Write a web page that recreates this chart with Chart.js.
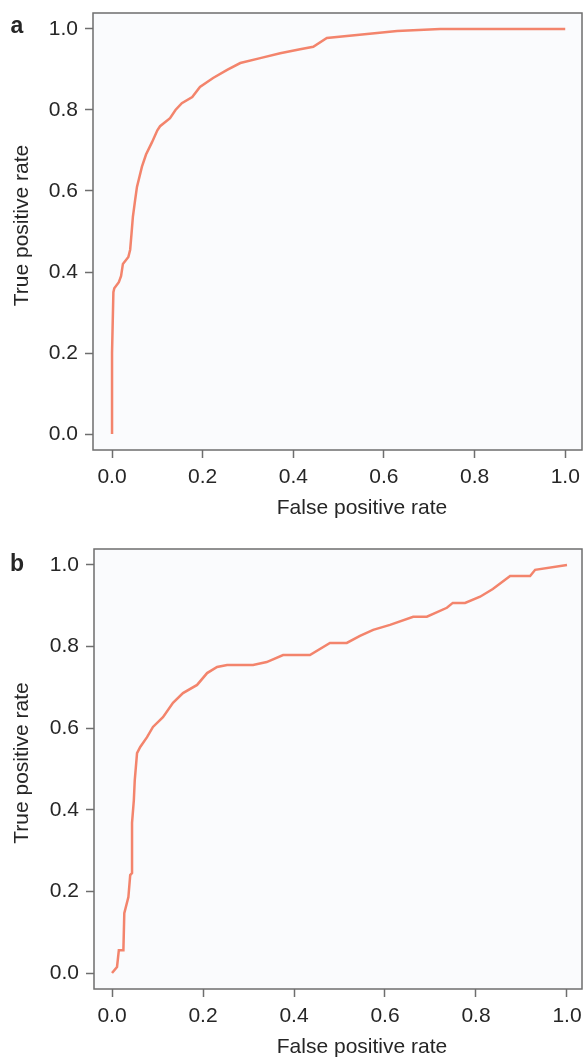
<!DOCTYPE html>
<html>
<head>
<meta charset="utf-8">
<script src="https://cdn.jsdelivr.net/npm/chart.js@4"></script>
<style>
  html, body { margin: 0; padding: 0; background: #fff; }
  body { width: 583px; height: 1057px; position: relative; overflow: hidden; }
  .panel { position: absolute; left: 0; width: 583px; }
  #panelA { top: 0; height: 528px; }
  #panelB { top: 528px; height: 529px; }
</style>
</head>
<body>
<div class="panel" id="panelA"><canvas id="rocA"></canvas></div>
<div class="panel" id="panelB"><canvas id="rocB"></canvas></div>
<script>
// ROC curve a
let fprA = [0, 0, 0.003, 0.005, 0.015, 0.02, 0.024, 0.036, 0.04, 0.043, 0.046, 0.051, 0.055, 0.066, 0.075,
    0.088, 0.1, 0.106, 0.128, 0.14, 0.154, 0.177, 0.194, 0.223, 0.254, 0.283, 0.327, 0.371, 0.415, 0.444,
    0.474, 0.585, 0.629, 0.724, 1.0];
let tprA = [0, 0.2, 0.35, 0.36, 0.375, 0.39, 0.42, 0.437, 0.455, 0.495, 0.536, 0.578, 0.61, 0.66, 0.69,
    0.72, 0.75, 0.76, 0.78, 0.8, 0.817, 0.832, 0.857, 0.879, 0.899, 0.916, 0.928, 0.94, 0.95, 0.956,
    0.978, 0.99, 0.995, 1.0, 1.0];

// ROC curve b
let fprB = [0, 0.011, 0.015, 0.025, 0.027, 0.036, 0.04, 0.044, 0.044, 0.048, 0.05, 0.055, 0.062, 0.077,
    0.09, 0.112, 0.134, 0.156, 0.187, 0.209, 0.231, 0.253, 0.31, 0.34, 0.376, 0.435, 0.479, 0.516, 0.545,
    0.574, 0.611, 0.662, 0.692, 0.736, 0.749, 0.776, 0.809, 0.837, 0.875, 0.919, 0.93, 1.0];
let tprB = [0, 0.015, 0.056, 0.056, 0.147, 0.186, 0.24, 0.245, 0.368, 0.424, 0.473, 0.539, 0.554, 0.578,
    0.603, 0.627, 0.662, 0.686, 0.706, 0.735, 0.75, 0.755, 0.755, 0.762, 0.779, 0.779, 0.809, 0.809, 0.826,
    0.841, 0.853, 0.873, 0.873, 0.895, 0.907, 0.907, 0.922, 0.941, 0.973, 0.973, 0.988, 1.0];

let axisTicks = [0, 0.2, 0.4, 0.6, 0.8, 1.0];
let xTitle = 'False positive rate';
let yTitle = 'True positive rate';

const FONT = '"Liberation Sans", Arial, Helvetica, sans-serif';
const AXIS_COLOR = '#6e6e6e';
const TEXT_COLOR = '#262626';

// background, box and the extra texts (panel letter, axis titles)
const panelDecor = {
    id: 'panelDecor',
    beforeDraw(chart, args, opts) {
        const a = chart.chartArea;
        const ctx = chart.ctx;
        ctx.save();
        ctx.fillStyle = '#fafbfd';
        ctx.fillRect(a.left, a.top, a.right - a.left, a.bottom - a.top);
        ctx.restore();
    },
    afterDraw(chart, args, opts) {
        const a = chart.chartArea;
        const ctx = chart.ctx;
        ctx.save();
        ctx.strokeStyle = AXIS_COLOR;
        ctx.lineWidth = 1.5;
        ctx.strokeRect(a.left, a.top, a.right - a.left, a.bottom - a.top);

        ctx.fillStyle = TEXT_COLOR;
        ctx.font = 'bold 23px ' + FONT;
        ctx.textAlign = 'center';
        ctx.textBaseline = 'middle';
        ctx.fillText(opts.letter, 17, opts.letterY);

        ctx.font = '21px ' + FONT;
        ctx.fillText(xTitle, 362, a.bottom + 58);

        ctx.translate(22, (a.top + a.bottom) / 2 - 6);
        ctx.rotate(-Math.PI / 2);
        ctx.fillText(yTitle, 0, 0);
        ctx.restore();
    }
};

function makeRoc(canvasId, fpr, tpr, o) {
    let points = fpr.map((v, i) => ({x: v, y: tpr[i]}));
    return new Chart(document.getElementById(canvasId), {
        type: 'line',
        data: {
            datasets: [{
                data: points,
                borderColor: 'rgb(243,132,108)',
                borderWidth: 2.5,
                pointRadius: 0,
                tension: 0,
                fill: false
            }]
        },
        options: {
            responsive: true,
            maintainAspectRatio: false,
            animation: false,
            events: [],
            layout: {padding: {left: 0, top: o.top, right: 1, bottom: 0}},
            plugins: {
                legend: {display: false},
                tooltip: {enabled: false},
                panelDecor: {letter: o.letter, letterY: o.letterY}
            },
            scales: {
                x: {
                    type: 'linear',
                    min: o.xMin,
                    max: o.xMax,
                    afterBuildTicks: s => { s.ticks = axisTicks.map(v => ({value: v})); },
                    afterFit: s => { s.height = o.xHeight; s.paddingLeft = 0; s.paddingRight = 0; },
                    border: {display: false},
                    grid: {display: true, drawOnChartArea: false, drawTicks: true, tickLength: 8,
                        tickColor: AXIS_COLOR, tickWidth: 1.5},
                    ticks: {
                        padding: 7,
                        maxRotation: 0,
                        autoSkip: false,
                        color: TEXT_COLOR,
                        font: {family: FONT, size: 21},
                        callback: v => v.toFixed(1)
                    }
                },
                y: {
                    type: 'linear',
                    min: o.yMin,
                    max: o.yMax,
                    afterBuildTicks: s => { s.ticks = axisTicks.map(v => ({value: v})); },
                    afterFit: s => { s.width = o.yWidth; s.paddingTop = 0; s.paddingBottom = 0; },
                    border: {display: false},
                    grid: {display: true, drawOnChartArea: false, drawTicks: true, tickLength: 8,
                        tickColor: AXIS_COLOR, tickWidth: 1.5},
                    ticks: {
                        padding: 7,
                        autoSkip: false,
                        color: TEXT_COLOR,
                        font: {family: FONT, size: 21},
                        callback: v => v.toFixed(1)
                    }
                }
            }
        },
        plugins: [panelDecor]
    });
}

makeRoc('rocA', fprA, tprA, {
    top: 13, xHeight: 78, yWidth: 93,
    xMin: -0.042, xMax: 1.037, yMin: -0.0395, yMax: 1.0395,
    letter: 'a', letterY: 27
});
makeRoc('rocB', fprB, tprB, {
    top: 21, xHeight: 68, yWidth: 94,
    xMin: -0.0396, xMax: 1.033, yMin: -0.039, yMax: 1.039,
    letter: 'b', letterY: 37
});
</script>
</body>
</html>
